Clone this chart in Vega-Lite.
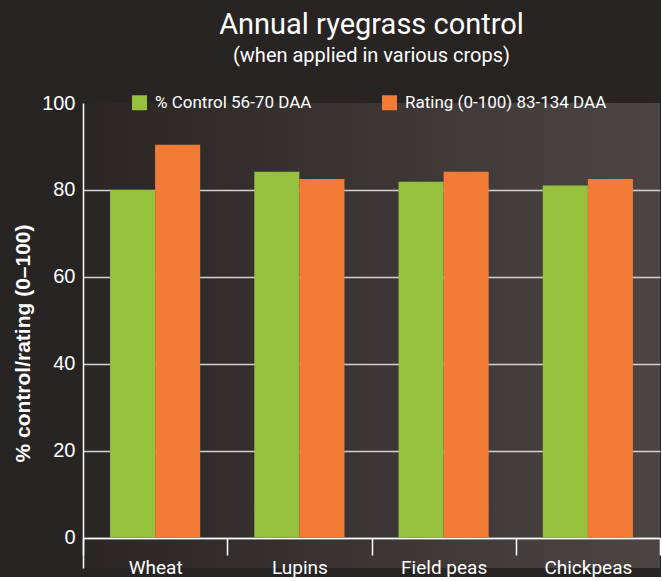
{
  "$schema": "https://vega.github.io/schema/vega-lite/v6.json",
  "width": 577,
  "height": 465,
  "padding": {"left": 12, "top": 11, "right": 0, "bottom": 0},
  "background": "#282423",
  "title": {
    "text": "Annual ryegrass control",
    "subtitle": "(when applied in various crops)",
    "font": "Roboto",
    "fontSize": 29,
    "fontWeight": "normal",
    "color": "#ffffff",
    "subtitleFont": "Roboto",
    "subtitleFontSize": 20,
    "subtitleColor": "#ffffff",
    "subtitlePadding": 6,
    "anchor": "middle",
    "offset": 27
  },
  "data": {
    "values": [
      {"crop": "Wheat", "series": "% Control 56-70 DAA", "value": 80},
      {"crop": "Wheat", "series": "Rating (0-100) 83-134 DAA", "value": 90.4},
      {"crop": "Lupins", "series": "% Control 56-70 DAA", "value": 84.2},
      {"crop": "Lupins", "series": "Rating (0-100) 83-134 DAA", "value": 82.5},
      {"crop": "Field peas", "series": "% Control 56-70 DAA", "value": 81.9},
      {"crop": "Field peas", "series": "Rating (0-100) 83-134 DAA", "value": 84.2},
      {"crop": "Chickpeas", "series": "% Control 56-70 DAA", "value": 81.0},
      {"crop": "Chickpeas", "series": "Rating (0-100) 83-134 DAA", "value": 82.5}
    ]
  },
  "mark": {"type": "bar"},
  "encoding": {
    "x": {
      "field": "crop",
      "type": "nominal",
      "sort": ["Wheat", "Lupins", "Field peas", "Chickpeas"],
      "scale": {"paddingInner": 0, "paddingOuter": 0},
      "axis": {
        "title": null,
        "labelAngle": 0,
        "labelFont": "Roboto",
        "labelFontSize": 19,
        "labelColor": "#ffffff",
        "labelPadding": 3,
        "tickBand": "extent",
        "tickSize": 17,
        "tickColor": "#ffffff",
        "tickWidth": 1.5,
        "domainColor": "#ffffff",
        "domainWidth": 1.5,
        "offset": -30
      }
    },
    "xOffset": {
      "field": "series",
      "type": "nominal",
      "scale": {"paddingOuter": 0.6, "paddingInner": 0}
    },
    "y": {
      "field": "value",
      "type": "quantitative",
      "scale": {"domain": [-7, 100], "nice": false, "zero": false},
      "axis": {
        "title": "% control/rating (0–100)",
        "titleFont": "Liberation Sans",
        "titleFontWeight": "bold",
        "titleFontSize": 21,
        "titleColor": "#ffffff",
        "titlePadding": 8,
        "titleY": 240,
        "values": [0, 20, 40, 60, 80, 100],
        "ticks": false,
        "labelPadding": 8,
        "labelFont": "Liberation Sans",
        "labelFontSize": 20,
        "labelColor": "#ffffff",
        "domainColor": "#ffffff",
        "domainWidth": 1.5,
        "grid": true,
        "gridColor": {"condition": {"test": "datum.value == 100", "value": "transparent"}, "value": "#d2d2d2"},
        "gridWidth": 1.5
      }
    },
    "color": {
      "field": "series",
      "type": "nominal",
      "scale": {"domain": ["% Control 56-70 DAA", "Rating (0-100) 83-134 DAA"], "range": ["#95c13d", "#f47b36"]},
      "legend": {
        "title": null,
        "orient": "none",
        "legendX": 48,
        "legendY": -9,
        "direction": "horizontal",
        "columns": 2,
        "columnPadding": 69,
        "symbolType": "square",
        "symbolSize": 225,
        "symbolStrokeWidth": 0,
        "symbolOpacity": 1,
        "labelFont": "Roboto",
        "labelFontSize": 17,
        "labelColor": "#ffffff",
        "labelOffset": 7,
        "labelLimit": 400
      }
    }
  },
  "config": {
    "view": {
      "stroke": null,
      "fill": {
        "gradient": "linear",
        "x1": 0, "y1": 0, "x2": 1, "y2": 0,
        "stops": [
          {"offset": 0, "color": "#2a2625"},
          {"offset": 1, "color": "#4c4543"}
        ]
      }
    },
    "axis": {"gridCap": "butt"}
  }
}
